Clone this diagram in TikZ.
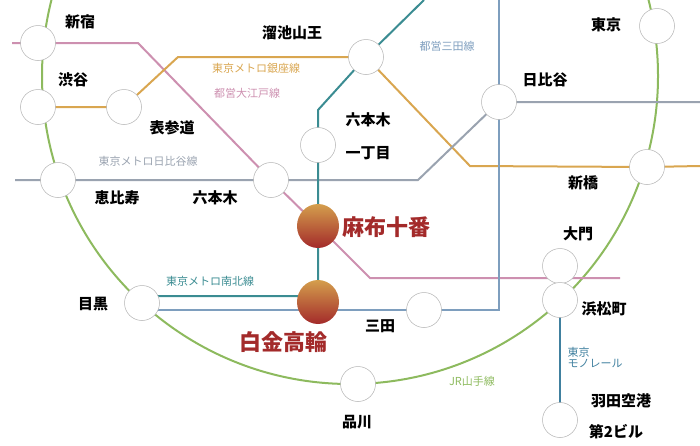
\documentclass[tikz,border=0pt]{standalone}
\usepackage{fontspec}
\setmainfont{Noto Sans CJK JP}
\usetikzlibrary{positioning,shapes.geometric,backgrounds}
\definecolor{yamanote}{HTML}{8DBA5E}
\definecolor{oedo}{HTML}{CD90B0}
\definecolor{ginza}{HTML}{D9A650}
\definecolor{hibiya}{HTML}{9AA3B0}
\definecolor{namboku}{HTML}{3B8C92}
\definecolor{mita}{HTML}{7E9EBE}
\definecolor{mono}{HTML}{40809F}
\definecolor{here}{HTML}{A32A2A}
\begin{document}
\begin{tikzpicture}[x=1pt,y=-1pt]
		\tikzset{st/.style={circle, draw=gray!60, fill=white, line width=0.5pt, minimum size=35pt, inner sep=0pt},
			hub/.style={ellipse, top color=ginza!80!brown, bottom color=here, minimum width=42pt, minimum height=44pt, inner sep=0pt},
			nm/.style={font=\bfseries\fontsize{15}{15}\selectfont},
			big/.style={font=\bfseries\fontsize{22}{22}\selectfont, text=here},
			ln/.style={font=\fontsize{11}{11}\selectfont},
			rail/.style={line width=2pt}};
		\useasboundingbox (0,0) rectangle (700,445);

		% coordinates of line bends
		\coordinate (oa) at (12,43);
		\coordinate (ob) at (138,43);
		\coordinate (oc) at (370,278);
		\coordinate (od) at (620,278);
		\coordinate (ga) at (178,57);
		\coordinate (gb) at (470,166);
		\coordinate (gc) at (700,166);
		\coordinate (ha) at (15,180);
		\coordinate (hb) at (418,180);
		\coordinate (hc) at (700,102);
		\coordinate (na) at (424,0);
		\coordinate (nb) at (318,110);
		\coordinate (nc) at (318,296);
		\coordinate (nd) at (142,296);
		\coordinate (ma) at (499,0);
		\coordinate (mb) at (499,310);
		\coordinate (me) at (142,310);

		\node[st] (shinjuku) at (38,43) {};
		\node[st] (shibuya) at (38,107) {};
		\node[st] (omote) at (124,107) {};
		\node[st] (ebisu) at (58,180) {};
		\node[st] (roppongi) at (271,180) {};
		\node[st] (itchome) at (318,145) {};
		\node[st] (tameike) at (366,57) {};
		\node[st] (hibiyast) at (499,102) {};
		\node[st] (tokyo) at (657,26) {};
		\node[st] (shimbashi) at (647,167) {};
		\node[st] (daimon) at (560,266) {};
		\node[st] (hamamatsu) at (560,300) {};
		\node[st] (mitast) at (424,310) {};
		\node[st] (meguro) at (142,303) {};
		\node[st] (shinagawa) at (358,384) {};
		\node[st] (haneda) at (560,420) {};
		\node[hub] (azabu) at (318,226) {};
		\node[hub] (shirokane) at (318,302) {};

		\begin{pgfonlayer}{background}
		\clip (0,0) rectangle (700,445);
		\draw[yamanote, rail] (350,76) circle (308);
		\draw[oedo, rail] (oa) -- (shinjuku.center) -- (ob) -- (roppongi.center) -- (azabu.center) -- (oc) -- (od);
		\draw[ginza, rail] (shibuya.center) -- (omote.center) -- (ga) -- (tameike.center) -- (gb) -- (shimbashi.center) -- (gc);
		\draw[hibiya, rail] (ha) -- (ebisu.center) -- (roppongi.center) -- (hb) -- (hibiyast.center) -- (hc);
		\draw[namboku, rail] (na) -- (tameike.center) -- (nb) -- (itchome.center) -- (azabu.center) -- (nc) -- (nd);
		\draw[mita, rail] (ma) -- (mb) -- (mitast.center) -- (me);
		\draw[mono, rail] (hamamatsu.center) -- (haneda.center);
		\end{pgfonlayer}

		\node[nm] (l1) at (80,22) {新宿};
		\node[nm] (l2) at (73,80) {渋谷};
		\node[nm] (l3) at (172,128) {表参道};
		\node[nm] (l4) at (117,198) {恵比寿};
		\node[nm] (l5) at (215,198) {六本木};
		\node[nm] (l6) at (368,120) {六本木};
		\node[nm] (l7) at (368,153) {一丁目};
		\node[nm] (l8) at (292,33) {溜池山王};
		\node[nm] (l9) at (545,80) {日比谷};
		\node[nm] (l10) at (606,25) {東京};
		\node[nm] (l11) at (583,183) {新橋};
		\node[nm] (l12) at (578,234) {大門};
		\node[nm] (l13) at (604,309) {浜松町};
		\node[nm] (l14) at (380,326) {三田};
		\node[nm] (l15) at (93,304) {目黒};
		\node[nm] (l16) at (357,422) {品川};
		\node[nm] (l17) at (621,401) {羽田空港};
		\node[nm] (l18) at (616,432) {第2ビル};
		\node[big] (l19) at (386,227) {麻布十番};
		\node[big] (l20) at (283,342) {白金高輪};

		\node[ln, ginza] (g1) at (256,68) {東京メトロ銀座線};
		\node[ln, oedo] (g2) at (247,93) {都営大江戸線};
		\node[ln, mita] (g3) at (447,46) {都営三田線};
		\node[ln, hibiya] (g4) at (148,161) {東京メトロ日比谷線};
		\node[ln, namboku] (g5) at (210,281) {東京メトロ南北線};
		\node[ln, yamanote] (g6) at (472,381) {JR山手線};
		\node[ln, mono, anchor=west, align=left] (g7) at (564,357) {東京\\モノレール};
	\end{tikzpicture}
\end{document}
